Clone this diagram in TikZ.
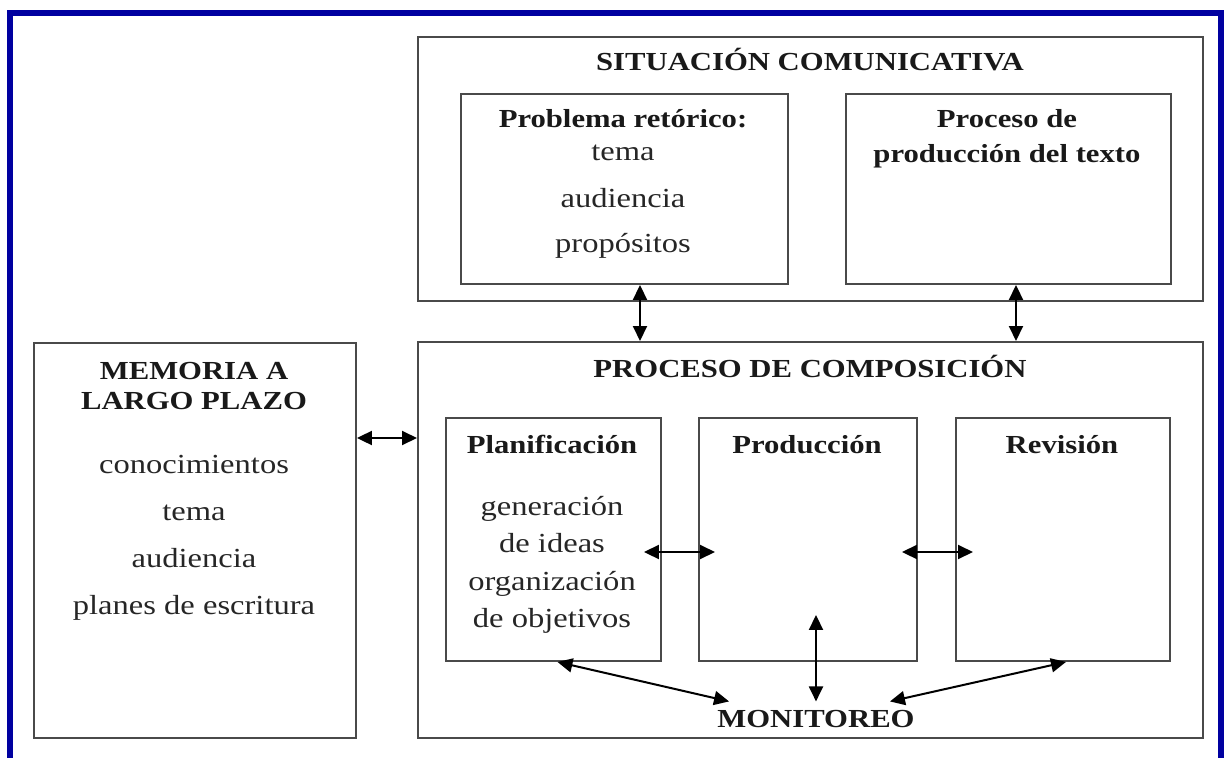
\documentclass[tikz,border=0pt]{standalone}
\usepackage{fontspec}
\setmainfont{Liberation Serif}[FakeStretch=1.18]
\usetikzlibrary{arrows.meta}

\definecolor{marco}{HTML}{0000A0}
\definecolor{linea}{HTML}{4A4A4A}
\tikzset{
  caja/.style={draw=linea,line width=0.04cm,anchor=north west,inner sep=0pt},
  titulo/.style={anchor=base,inner sep=0pt,text=black!90,font=\fontsize{14.8}{17}\selectfont\bfseries},
  texto/.style={anchor=base,inner sep=0pt,text=black!85,font=\fontsize{15.7}{18}\selectfont},
  flecha/.style={{Triangle[length=0.3cm,width=0.28cm]}-{Triangle[length=0.3cm,width=0.28cm]},line width=0.04cm}
}

\begin{document}
\begin{tikzpicture}[x=0.02cm,y=-0.02cm]
\useasboundingbox (0,0) rectangle (1225,758);
\clip (0,0) rectangle (1225,758);
% marco azul
\draw[marco,line width=0.12cm] (10,780) -- (10,13) -- (1221,13) -- (1221,780);

% situacion comunicativa
  \node[caja,minimum width=15.7cm,minimum height=5.28cm] (sit) at (417,36) {};
  \node[titulo] (sittit) at (810,70) {SITUACIÓN COMUNICATIVA};
  \node[caja,minimum width=6.54cm,minimum height=3.8cm] (probl) at (460,93) {};
  \node[titulo] (probltit) at (623,127) {Problema retórico:};
  \node[texto] (probla) at (623,160) {tema};
  \node[texto] (problb) at (623,207) {audiencia};
  \node[texto] (problc) at (623,252) {propósitos};
  \node[caja,minimum width=6.5cm,minimum height=3.8cm] (prodtxt) at (845,93) {};
  \node[titulo] (prodtxta) at (1007,127) {Proceso de};
  \node[titulo] (prodtxtb) at (1007,162) {producción del texto};

% memoria a largo plazo
  \node[caja,minimum width=6.44cm,minimum height=7.9cm] (mem) at (33,342) {};
  \node[titulo] (mema) at (194,379) {MEMORIA A};
  \node[titulo] (memb) at (194,409) {LARGO PLAZO};
  \node[texto] (memc) at (194,473) {conocimientos};
  \node[texto] (memd) at (194,520) {tema};
  \node[texto] (meme) at (194,567) {audiencia};
  \node[texto] (memf) at (194,614) {planes de escritura};

% proceso de composicion
  \node[caja,minimum width=15.7cm,minimum height=7.92cm] (compo) at (417,341) {};
  \node[titulo] (compotit) at (810,377) {PROCESO DE COMPOSICIÓN};
  \node[caja,minimum width=4.3cm,minimum height=4.86cm] (plan) at (445,417) {};
  \node[titulo] (plantit) at (552,453) {Planificación};
  \node[texto] (plana) at (552,515) {generación};
  \node[texto] (planb) at (552,552) {de ideas};
  \node[texto] (planc) at (552,590) {organización};
  \node[texto] (pland) at (552,627) {de objetivos};
  \node[caja,minimum width=4.36cm,minimum height=4.86cm] (prod) at (698,417) {};
  \node[titulo] (prodtit) at (807,453) {Producción};
  \node[caja,minimum width=4.28cm,minimum height=4.86cm] (rev) at (955,417) {};
  \node[titulo] (revtit) at (1062,453) {Revisión};
  \node[titulo] (moni) at (816,727) {MONITOREO};

% flechas
  \draw[flecha] (probl.south -| 640,0) -- (640,0 |- compo.north);
  \draw[flecha] (prodtxt.south -| 1016,0) -- (1016,0 |- compo.north);
  \draw[flecha] (mem.east |- 0,438) -- (compo.west |- 0,438);
  \draw[flecha,shorten <=-0.36cm,shorten >=-0.34cm] (plan.east |- 0,552) -- (prod.west |- 0,552);
  \draw[flecha,shorten <=-0.32cm,shorten >=-0.36cm] (prod.east |- 0,552) -- (rev.west |- 0,552);
  \draw[flecha,shorten <=-0.94cm] (prod.south -| moni.north) -- ([yshift=0.16cm]moni.north);
  \draw[flecha] ([xshift=0.08cm]plan.south) -- ([xshift=0.24cm,yshift=0.16cm]moni.north west);
  \draw[flecha] ([xshift=0.06cm]rev.south) -- ([xshift=-0.5cm,yshift=0.16cm]moni.north east);
\end{tikzpicture}
\end{document}
